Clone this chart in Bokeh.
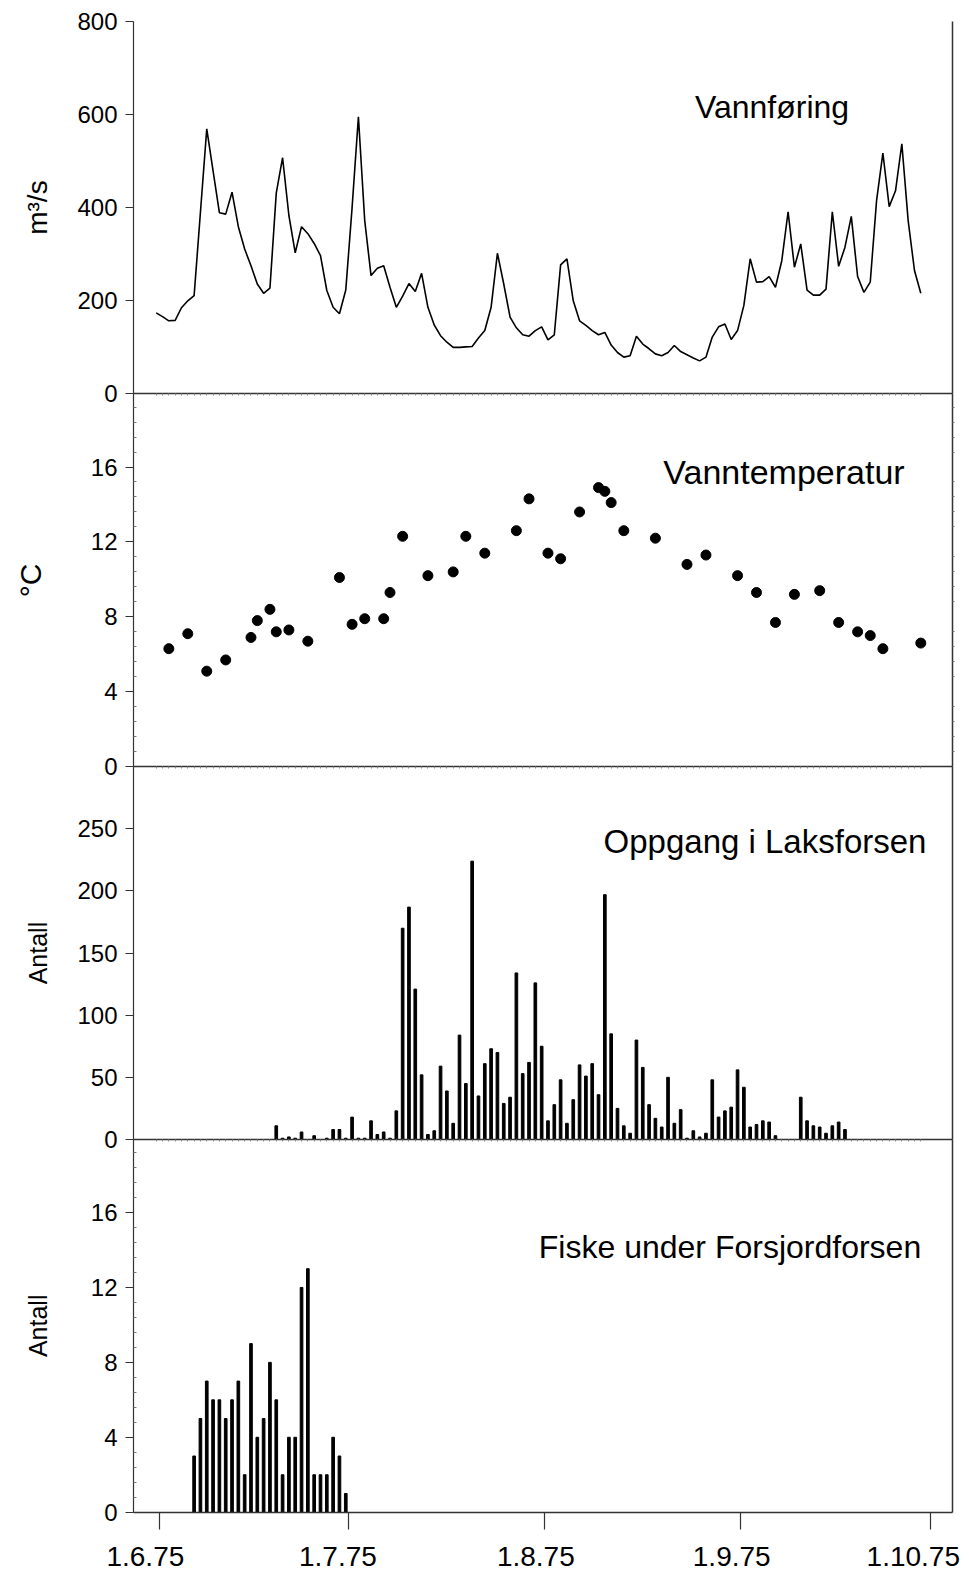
import math
from bokeh.plotting import figure
from bokeh.models import Range1d, LinearAxis, FixedTicker, Label
from bokeh.embed import file_html
from bokeh.resources import INLINE

FONT = "Liberation Sans"

# ---------------- data ----------------
# day index 0 = first daily value (1 June 1975)
flow_day = list(range(0, 122))
flow = [174, 166, 157, 158, 185, 200, 211, 390, 569, 479,
        389, 386, 433, 359, 311, 275, 236, 216, 227, 431,
        507, 383, 303, 359, 344, 323, 297, 222, 186, 172,
        223, 400, 595, 372, 254, 270, 275, 229, 186, 210,
        237, 220, 259, 186, 148, 125, 111, 100, 100, 101,
        102, 120, 136, 186, 302, 236, 165, 142, 127, 124,
        136, 144, 116, 127, 277, 290, 200, 157, 147, 136,
        127, 132, 105, 89, 79, 82, 124, 107, 97, 86,
        82, 89, 104, 91, 84, 77, 71, 79, 122, 144,
        150, 117, 136, 190, 290, 240, 241, 252, 229, 286,
        391, 272, 322, 223, 212, 212, 225, 391, 274, 315,
        381, 252, 218, 240, 415, 517, 402, 436, 537, 372,
        265, 216]

temp_day = [2, 5, 8, 11, 15, 16, 18, 19, 21, 24,
            29, 31, 33, 36, 37, 39, 43, 47, 49, 52,
            57, 59, 62, 64, 67, 70, 71, 72, 74, 79,
            84, 87, 92, 95, 98, 101, 105, 108, 111, 113,
            115, 121]
temp = [6.3, 7.1, 5.1, 5.7, 6.9, 7.8, 8.4, 7.2, 7.3, 6.7,
        10.1, 7.6, 7.9, 7.9, 9.3, 12.3, 10.2, 10.4, 12.3, 11.4,
        12.6, 14.3, 11.4, 11.1, 13.6, 14.9, 14.7, 14.1, 12.6, 12.2,
        10.8, 11.3, 10.2, 9.3, 7.7, 9.2, 9.4, 7.7, 7.2, 7.0,
        6.3, 6.6]

run_day = [19, 20, 21, 22, 23, 25, 27, 28, 29, 30,
           31, 32, 33, 34, 35, 36, 37, 38, 39, 40,
           41, 42, 43, 44, 45, 46, 47, 48, 49, 50,
           51, 52, 53, 54, 55, 56, 57, 58, 59, 60,
           61, 62, 63, 64, 65, 66, 67, 68, 69, 70,
           71, 72, 73, 74, 75, 76, 77, 78, 79, 80,
           81, 82, 83, 84, 85, 86, 87, 88, 89, 90,
           91, 92, 93, 94, 95, 96, 97, 98, 102, 103,
           104, 105, 106, 107, 108, 109]
run = [11, 1, 2, 1, 6, 3, 1, 8, 8, 1,
       18, 1, 1, 15, 4, 6, 1, 23, 170, 187,
       121, 52, 4, 7, 59, 39, 13, 84, 45, 224,
       35, 61, 73, 70, 29, 34, 134, 53, 62, 126,
       75, 15, 28, 48, 13, 32, 60, 51, 61, 36,
       197, 85, 25, 11, 5, 80, 58, 28, 17, 10,
       50, 13, 24, 1, 7, 2, 5, 48, 18, 23,
       26, 56, 42, 10, 12, 15, 14, 3, 34, 15,
       11, 10, 5, 11, 14, 8]

fish_day = [6, 7, 8, 9, 10, 11, 12, 13, 14, 15,
            16, 17, 18, 19, 20, 21, 22, 23, 24, 25,
            26, 27, 28, 29, 30]
fish = [3, 5, 7, 6, 6, 5, 6, 7, 2, 9,
        4, 5, 8, 6, 2, 4, 4, 12, 13, 2,
        2, 2, 4, 3, 1]

month_ticks = [0.5, 30.5, 61.5, 92.5, 122.5]
month_labels = ["1.6.75", "1.7.75", "1.8.75", "1.9.75", "1.10.75"]

panels = [
    # name, lo, hi, major ticks, minor step, title, y label
    ("flow", 0, 800, [0, 200, 400, 600, 800], None, "Vannføring", "m³/s"),
    ("temp", 0, 19.9, [0, 4, 8, 12, 16], 0.8, "Vanntemperatur", "°C"),
    ("run", 0, 300, [0, 50, 100, 150, 200, 250], None, "Oppgang i Laksforsen", "Antall"),
    ("fish", 0, 19.9, [0, 4, 8, 12, 16], 0.8, "Fiske under Forsjordforsen", "Antall"),
]

# ---------------- layout (pixels) ----------------
W, H = 969, 1571
AXIS_PX, RIGHT_PX = 133.0, 952.0
DAY0_PX, PX_PER_DAY = 155.7, 6.319
TOP_PX, BOTTOM_PX = 20.7, 1511.7
PANEL_H = (BOTTOM_PX - TOP_PX) / len(panels)

x_lo = (0 - DAY0_PX) / PX_PER_DAY
x_hi = (W - DAY0_PX) / PX_PER_DAY
AXIS_X = (AXIS_PX - DAY0_PX) / PX_PER_DAY
X_END = (RIGHT_PX - DAY0_PX) / PX_PER_DAY

# annotation placement (title centre in px, label centre px)
title_center = {"flow": (771.5, 106), "temp": (783.5, 471),
                "run": (764.5, 841), "fish": (729.5, 1246)}
title_size = {"flow": "32px", "temp": "34px", "run": "33px", "fish": "32px"}
ylab_px = {"flow": 37, "temp": 30, "run": 37, "fish": 37}
ylab_size = {"flow": "28px", "temp": "30px", "run": "25px", "fish": "25px"}
DATE_LABEL_PX_Y = 1556
date_label_shift = [-14, -11, -9, -9, -17]

p = figure(width=W, height=H, x_range=Range1d(x_lo, x_hi),
           y_range=Range1d(0, 1), x_axis_type=None, y_axis_type=None,
           toolbar_location=None, output_backend="svg",
           min_border=0, min_border_left=0, min_border_right=0,
           min_border_top=0, min_border_bottom=0)
p.outline_line_color = None
p.background_fill_color = "white"
p.border_fill_color = "white"

extra = {}
pix = {}
for i, (name, lo, hi, *_r) in enumerate(panels):
    top = TOP_PX + i * PANEL_H
    bot = top + PANEL_H
    per_px = (hi - lo) / PANEL_H
    extra[name] = Range1d(lo - (H - bot) * per_px, hi + top * per_px)
    pix[name] = (bot, per_px, lo)
p.extra_y_ranges = extra


def to_val(name, py):
    bot, per_px, lo = pix[name]
    return lo + (bot - py) * per_px


def to_day(px):
    return (px - DAY0_PX) / PX_PER_DAY


AX = "#333333"
for i, (name, lo, hi, ticks, mstep, title, ylab) in enumerate(panels):
    minor = []
    if mstep:
        k = 1
        while k * mstep < hi:
            v = round(k * mstep, 3)
            if all(abs(v - t) > 1e-6 for t in ticks):
                minor.append(v)
            k += 1
    ax = LinearAxis(y_range_name=name, fixed_location=AXIS_X, bounds=(lo, hi),
                    ticker=FixedTicker(ticks=ticks, minor_ticks=minor),
                    major_tick_out=8, major_tick_in=0,
                    minor_tick_out=0, minor_tick_in=3,
                    major_tick_line_color=AX, minor_tick_line_color="#777777",
                    axis_line_color=AX, axis_line_width=1.2,
                    major_label_text_font=FONT, major_label_text_font_size="24px",
                    major_label_text_color="black", major_label_standoff=8)
    p.add_layout(ax, "left")

    # right frame line
    rminor = minor if name == "temp" else []
    rx = LinearAxis(y_range_name=name, fixed_location=X_END, bounds=(lo, hi),
                    ticker=FixedTicker(ticks=[], minor_ticks=rminor),
                    minor_tick_out=2, minor_tick_in=0,
                    minor_tick_line_color="#777777",
                    axis_line_color=AX, axis_line_width=1.5)
    p.add_layout(rx, "right")

    if i < len(panels) - 1:
        bx = LinearAxis(y_range_name=name, fixed_location=0, bounds=(AXIS_X, X_END),
                        ticker=FixedTicker(ticks=[], minor_ticks=flow_day),
                        minor_tick_out=2, minor_tick_in=0,
                        minor_tick_line_color="#888888",
                        axis_line_color=AX, axis_line_width=1.5)
        p.add_layout(bx, "below")
    else:
        # month tick marks (drawn as label-less ticks)
        bx = LinearAxis(y_range_name=name, fixed_location=0, bounds=(AXIS_X, X_END),
                        ticker=FixedTicker(ticks=[], minor_ticks=month_ticks),
                        minor_tick_out=17, minor_tick_in=0,
                        minor_tick_line_color=AX, minor_tick_line_width=1.2,
                        axis_line_color=AX, axis_line_width=1.5)
        p.add_layout(bx, "below")
        for t, lab, sh in zip(month_ticks, month_labels, date_label_shift):
            p.add_layout(Label(x=t, y=to_val(name, DATE_LABEL_PX_Y), y_range_name=name,
                               x_offset=sh, text=lab, text_align="center",
                               text_baseline="middle", text_font=FONT,
                               text_font_size="28px", text_color="black"))

    tx, ty = title_center[name]
    p.add_layout(Label(x=to_day(tx), y=to_val(name, ty), y_range_name=name, text=title,
                       text_align="center", text_baseline="middle",
                       text_font=FONT, text_font_size=title_size[name],
                       text_color="black"))
    p.add_layout(Label(x=to_day(ylab_px[name]), y=(lo + hi) / 2,
                       y_range_name=name, text=ylab, angle=math.pi / 2,
                       text_align="center", text_baseline="middle",
                       text_font=FONT, text_font_size=ylab_size[name],
                       text_color="black"))

# ---------------- data marks ----------------
p.line(flow_day, flow, y_range_name="flow", line_color="black", line_width=1.6)
p.scatter(temp_day, temp, y_range_name="temp", size=10, color="black")
p.vbar(x=run_day, top=run, bottom=0, width=0.42, y_range_name="run", color="black")
p.vbar(x=fish_day, top=fish, bottom=0, width=0.42, y_range_name="fish", color="black")

open("out.html", "w").write(file_html(p, INLINE))
